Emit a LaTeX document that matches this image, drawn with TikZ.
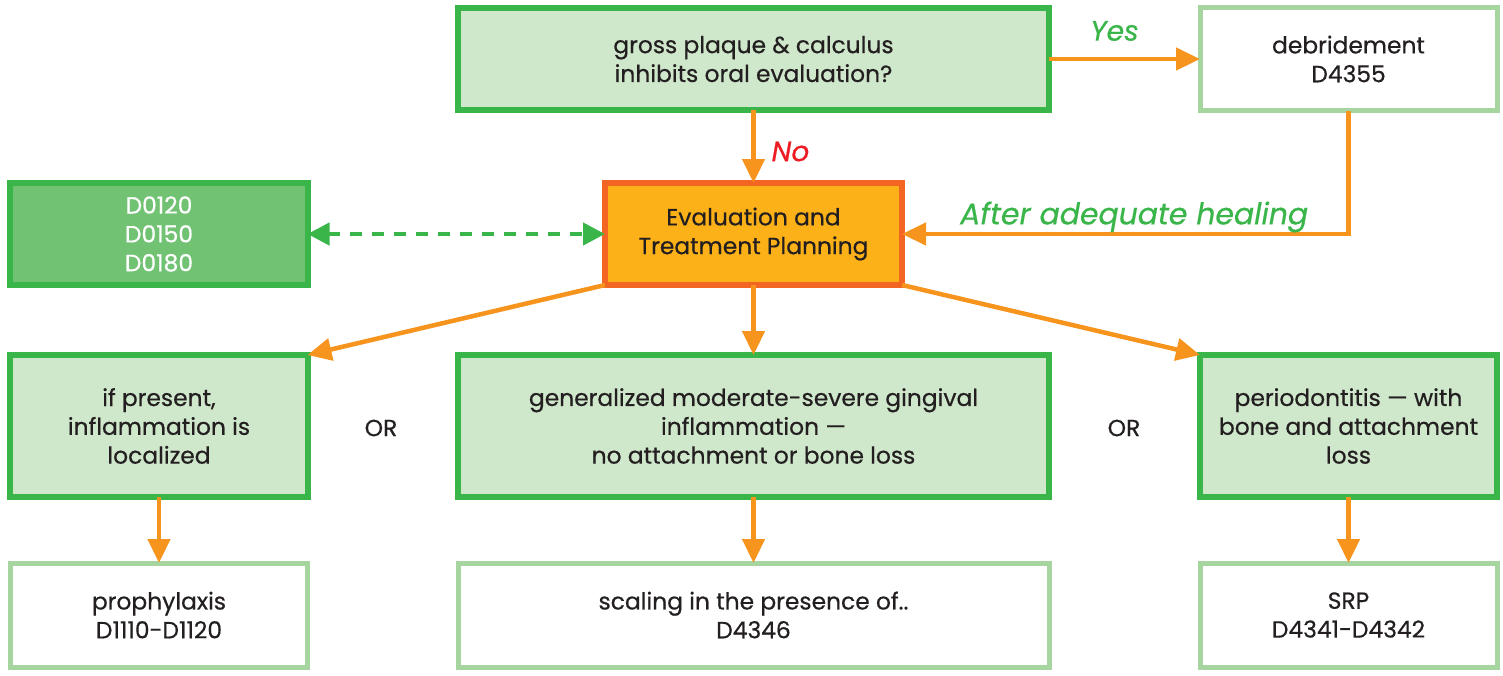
\documentclass[tikz,border=0pt]{standalone}
\usepackage{fontspec}
\setmainfont{Poppins}[FakeBold=0.5]
\usetikzlibrary{positioning}
\usetikzlibrary{arrows.meta}

\definecolor{darkgreen}{HTML}{39B54A}
\definecolor{palegreen}{HTML}{CFE7CB}
\definecolor{midgreen}{HTML}{72C274}
\definecolor{lightline}{HTML}{A6D5A0}
\definecolor{arrorange}{HTML}{F7941D}
\definecolor{evalfill}{HTML}{FBB117}
\definecolor{evalline}{HTML}{F26522}
\definecolor{alertred}{HTML}{ED1C24}
\definecolor{inktext}{HTML}{231F20}

\begin{document}
\begin{tikzpicture}[
txt/.style={font=\fontsize{13.3}{16.4}\selectfont,text=inktext,align=center},
step box/.style={rectangle,txt,inner sep=0,outer sep=0},
green box/.style={step box,draw=darkgreen,fill=palegreen,line width=0.12cm},
code box/.style={step box,draw=lightline,fill=white,line width=0.1cm,
                 minimum height=2.08cm},
wide/.style={minimum width=11.82cm},
narrow/.style={minimum width=5.94cm},
flow/.style={draw=arrorange,line width=0.09cm,-{Triangle[length=0.48cm,width=0.44cm]}},
cue/.style={font=\fontsize{16}{19}\selectfont\itshape}]
\useasboundingbox (0,0) rectangle (30.06,-13.5);
%==================
\node[green box,wide,minimum height=2.04cm] (qplaque) at (15.07,-1.18)
  {gross plaque \& calculus\\inhibits oral evaluation?};
\node[code box,narrow,minimum height=2.06cm] (debride) at (26.97,-1.18)
  {debridement\\D4355};
\node[step box,narrow,minimum height=2.04cm,draw=evalline,fill=evalfill,line width=0.12cm] (evalplan) at (15.07,-4.68)
  {Evaluation and\\Treatment Planning};
\node[green box,narrow,minimum height=2.04cm,fill=midgreen,text=white] (codes) at (3.18,-4.68)
  {D0120\\D0150\\D0180};
% ===================
\node[green box,narrow,minimum height=2.84cm] (localized) at (3.18,-8.52)
  {if present,\\inflammation is\\localized};
\node[green box,wide,minimum height=2.84cm] (general) at (15.07,-8.52)
  {generalized moderate-severe gingival\\inflammation ---\\no attachment or bone loss};
\node[green box,narrow,minimum height=2.84cm] (perio) at (26.97,-8.52)
  {periodontitis --- with\\bone and attachment\\loss};
\node[txt] (or1) at (7.62,-8.56) {OR};
\node[txt] (or2) at (22.48,-8.56) {OR};
% ===================
\node[code box,narrow] (prophy) at ([yshift=-1.32cm]localized.south) [anchor=north]
  {prophylaxis\\D1110-D1120};
\node[code box,wide] (scaling) at ([yshift=-1.32cm]general.south) [anchor=north]
  {scaling in the presence of..\\D4346};
\node[code box,narrow] (srp) at ([yshift=-1.32cm]perio.south) [anchor=north]
  {SRP\\D4341-D4342};
% ===================
\draw[flow] (qplaque) -- node[cue,text=darkgreen,above=0.2cm,xshift=-0.2cm] (yeslbl) {Yes} (debride);
\draw[flow] (qplaque) -- node[cue,text=alertred,right=0.2cm,yshift=-0.1cm] (nolbl) {No} (evalplan);
\coordinate (turn) at (debride.south |- evalplan.east);
\draw[flow] (debride.south) -- (turn) -- (evalplan.east)
  node[cue,font=\fontsize{17}{20}\selectfont\itshape,text=darkgreen,above=-0.13cm,pos=0.48] (heallbl) {After adequate healing};
\draw[draw=darkgreen,line width=0.09cm,dash pattern=on 0.24cm off 0.2cm,
      {Triangle[length=0.44cm,width=0.44cm]}-{Triangle[length=0.44cm,width=0.44cm]}]
  (codes.east) -- (evalplan.west);
% ===================
\draw[flow] (evalplan.south west) -- (localized.north east);
\draw[flow] (evalplan) -- (general);
\draw[flow] (evalplan.south east) -- (perio.north west);
\foreach \a/\b in {localized/prophy,general/scaling,perio/srp}{
\draw[flow] (\a) -- (\b);
}
\end{tikzpicture}
\end{document}
